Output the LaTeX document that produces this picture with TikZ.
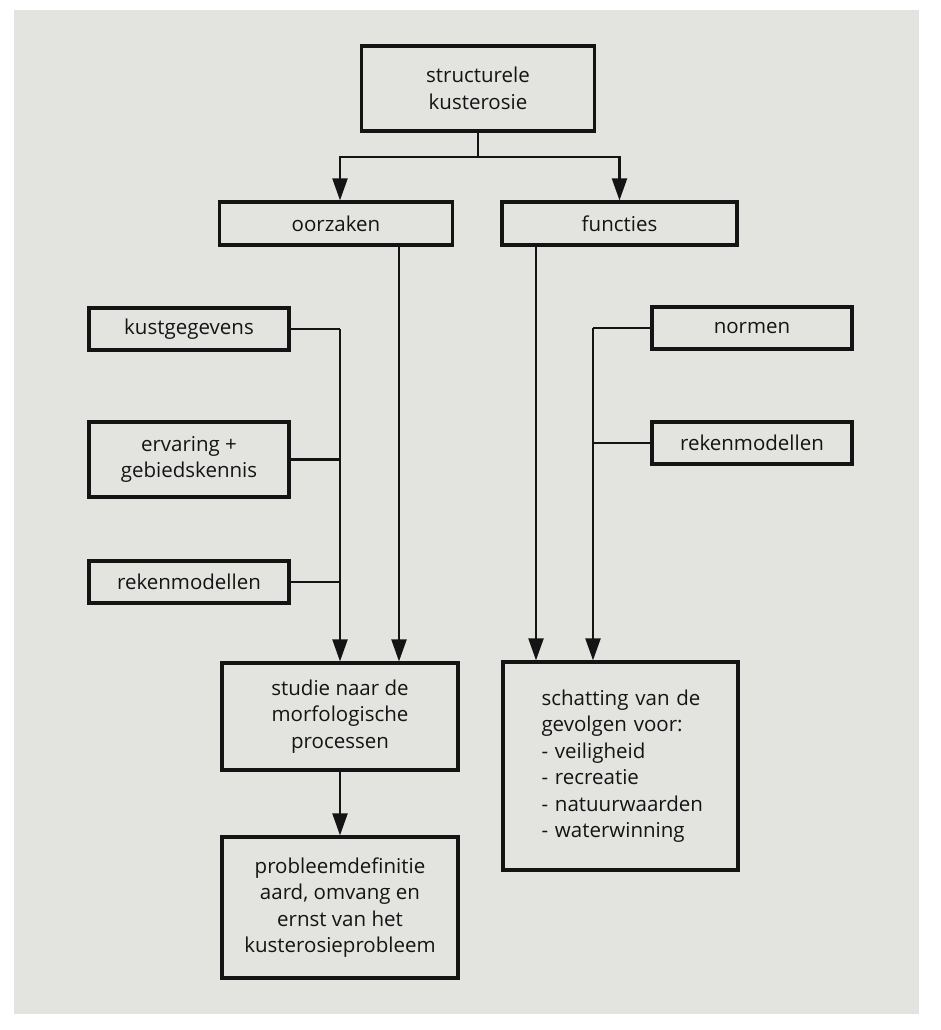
\documentclass[tikz,border=0pt]{standalone}
\usepackage{fontspec}
\setmainfont{Open Sans}
\usetikzlibrary{arrows.meta}
\definecolor{panel}{RGB}{227,228,224}
\definecolor{ink}{RGB}{20,20,20}
\tikzset{
  box/.style={draw=ink, line width=3.2pt, inner sep=0pt, align=center, text=ink,
    font=\fontsize{20.5}{26.5}\selectfont},
  conn/.style={draw=ink, line width=2.1pt},
  arr/.style={conn, -{Triangle[length=22pt,width=15pt]}},
}
\begin{document}
\begin{tikzpicture}[x=1pt,y=-1pt]
\useasboundingbox (0,0) rectangle (940,1030);
\fill[white] (0,0) rectangle (940,1030);
\fill[panel] (14,10) rectangle (919,1014);

\coordinate (cL) at (340,0);
\coordinate (cO) at (399,0);
\coordinate (cF) at (536,0);
\coordinate (cR) at (593,0);
\coordinate (j) at (478,157);

\node[box, minimum width=233pt, minimum height=85pt] (top) at (478,88.5) {structurele\\kusterosie};
\node[box, minimum width=233pt, minimum height=43pt] (oorzaken) at (336,223.5) {oorzaken};
\node[box, minimum width=235pt, minimum height=43pt] (functies) at (619.5,223.5) {functies};
\node[box, minimum width=200pt, minimum height=42pt] (kust) at (189,329) {kustgegevens};
\node[box, minimum width=200pt, minimum height=75pt] (ervaring) at (189,459.5) {ervaring +\\gebiedskennis};
\node[box, minimum width=200pt, minimum height=42pt] (rekenL) at (189,582) {rekenmodellen};
\node[box, minimum width=200pt, minimum height=42pt] (normen) at (752,328) {normen};
\node[box, minimum width=200pt, minimum height=42pt] (rekenR) at (752,443) {rekenmodellen};
\node[box, minimum width=236pt, minimum height=107pt] (studie) at (340,716.5) {studie naar de\\morfologische\\processen};
\node[box, minimum width=236pt, minimum height=141pt] (probleem) at (340,907.5) {probleemdefinitie\\aard, omvang en\\ernst van het\\kusterosieprobleem};
\node[box, align=left, text width=158pt, inner xsep=38.5pt, minimum height=208pt] (schatting) at (620.5,766)
  {\hfuzz=80pt\hbadness=10000
   \mbox{schatting van de}\\\mbox{gevolgen voor:}\\\mbox{- veiligheid}\\\mbox{- recreatie}\\\mbox{- natuurwaarden}\\\mbox{- waterwinning}};

% top split
\draw[conn] (top.south) -- (j);
\draw[arr] (j) -| (oorzaken.north -| cL);
\draw[arr] (j) -| (functies.north);

% main verticals
\draw[arr] (oorzaken.south -| cO) -- (studie.north -| cO);
\draw[arr] (functies.south -| cF) -- (schatting.north -| cF);

% left inputs
\draw[conn] (kust.east) -- (kust.east -| cL);
\draw[conn] (ervaring.east) -- (ervaring.east -| cL);
\draw[conn] (rekenL.east) -- (rekenL.east -| cL);
\draw[arr] (kust.east -| cL) -- (studie.north -| cL);

% right inputs
\draw[conn] (normen.west) -- (normen.west -| cR);
\draw[conn] (rekenR.west) -- (rekenR.west -| cR);
\draw[arr] (normen.west -| cR) -- (schatting.north -| cR);

% studie to probleem
\draw[arr] (studie.south) -- (probleem.north);
\end{tikzpicture}
\end{document}
